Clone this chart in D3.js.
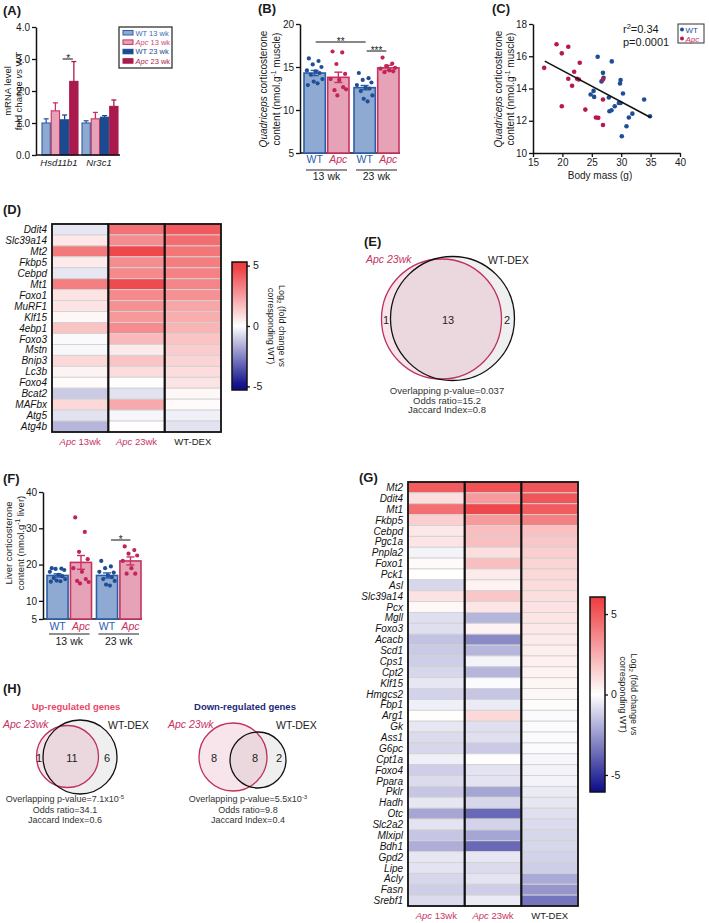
<!DOCTYPE html>
<html>
<head>
<meta charset="utf-8">
<script src="https://cdn.jsdelivr.net/npm/d3@7"></script>
<style>
body { margin: 0; background: #fff; }
svg text { font-family: "Liberation Sans", Arial, Helvetica, sans-serif; }
</style>
</head>
<body>
<div id="fig"></div>
<script>
// ---------- data ----------
// (A) mRNA level, fold change vs WT
const seriesA = ["WT 13 wk", "Apc 13 wk", "WT 23 wk", "Apc 23 wk"];
const genesA = ["Hsd11b1", "Nr3c1"];
const meanA = [[1.0, 1.38, 1.1, 2.3], [1.0, 1.13, 1.18, 1.52]];
const semA = [[0.13, 0.25, 0.15, 0.62], [0.07, 0.2, 0.05, 0.2]];
const ticksA = [0, 1, 2, 3, 4];

// (B) quadriceps corticosterone
const ages = ["13 wk", "23 wk"];
const genotypes = ["WT", "Apc"];
const meanB = [14.3, 13.8, 12.6, 14.9];
const semB = [0.3, 0.6, 0.25, 0.3];
const pointsB = [
  [16.0, 15.7, 15.3, 15.0, 14.6, 14.5, 14.3, 14.1, 13.6, 13.3, 13.1, 12.9],
  [16.8, 16.7, 15.35, 14.2, 13.6, 13.5, 12.65, 12.3, 12.4, 11.7],
  [14.3, 13.7, 13.5, 13.2, 12.9, 12.6, 12.5, 12.2, 11.7, 11.3, 11.0],
  [16.1, 15.4, 15.1, 14.9, 14.8, 14.6, 14.5, 14.4]
];
const ticksB = [5, 10, 15, 20];

// (C) body mass vs corticosterone
const wtC = [[26.0, 15.97], [28.4, 15.68], [26.9, 14.97], [27.0, 14.66], [26.65, 14.44], [29.9, 14.52],
  [29.8, 14.31], [30.3, 13.69], [25.3, 13.85], [24.8, 13.63], [25.4, 13.48], [27.9, 13.44], [29.9, 13.1],
  [29.6, 13.1], [33.9, 13.32], [28.9, 12.9], [28.35, 12.65], [28.0, 12.59], [31.9, 12.44], [31.3, 12.2],
  [34.9, 12.28], [30.9, 11.66], [30.1, 11.04]];
const apcC = [[19.0, 16.74], [21.0, 16.59], [19.9, 16.18], [16.9, 15.28], [22.95, 15.6], [22.0, 15.04],
  [21.0, 14.6], [22.5, 14.6], [22.8, 14.56], [21.65, 14.17], [26.9, 14.56], [19.9, 12.9], [23.9, 12.69],
  [26.9, 13.32], [25.7, 12.2], [26.1, 12.18], [26.9, 11.74]];
const fitC = [[17, 15.7], [35, 12.2]];
const ticksCx = [15, 20, 25, 30, 35, 40];
const ticksCy = [10, 12, 14, 16, 18];

// (D) muscle heatmap, log2 fold change
const colsHeat = ["Apc 13wk", "Apc 23wk", "WT-DEX"];
const genesD = ["Ddit4", "Slc39a14", "Mt2", "Fkbp5", "Cebpd", "Mt1", "Foxo1", "MuRF1", "Klf15", "4ebp1",
  "Foxo3", "Mstn", "Bnip3", "Lc3b", "Foxo4", "Bcat2", "MAFbx", "Atg5", "Atg4b"];
const valuesD = [
  [-0.5, 3.6, 4.2], [0.6, 2.9, 3.7], [3.4, 4.7, 3.5], [0.5, 2.9, 3.3], [-0.5, 3.0, 3.2],
  [3.3, 4.6, 3.1], [0.7, 3.0, 2.8], [0.7, 2.8, 2.3], [0.2, 2.6, 2.1], [1.5, 2.9, 1.9],
  [-0.1, 1.8, 1.5], [-0.15, 0.5, 1.3], [1.0, 1.5, 1.1], [0.3, 0.9, 0.9], [0.1, 0.05, 0.7],
  [-1.1, -0.6, 0.2], [1.0, 2.2, 0.1], [-0.6, -0.2, -0.3], [-1.5, 0.05, -0.6]
];
const ticksD = [-5, 0, 5];

// (E) venn
const countsE = [1, 13, 2];
const statsE = ["Overlapping p-value=0.037", "Odds ratio=15.2", "Jaccard Index=0.8"];

// (F) liver corticosterone
const meanF = [17.0, 20.6, 17.0, 21.0];
const semF = [0.45, 1.9, 0.7, 1.1];
const pointsF = [
  [19, 18.9, 18.8, 18.5, 18, 17.2, 16.8, 16.3, 16, 15.6, 15.4, 15.3],
  [33, 29, 23.5, 21.5, 19, 18, 16, 15.5, 15.2, 14.8],
  [21, 19.5, 19, 17.8, 18, 17, 16.5, 16, 15.5, 14.5, 14.2],
  [25, 24, 23, 22.5, 21, 19, 17.5, 17.5]
];
const ticksF = [5, 10, 20, 30, 40];

// (G) liver heatmap
const genesG = ["Mt2", "Ddit4", "Mt1", "Fkbp5", "Cebpd", "Pgc1a", "Pnpla2", "Foxo1", "Pck1", "Asl",
  "Slc39a14", "Pcx", "Mgll", "Foxo3", "Acacb", "Scd1", "Cps1", "Cpt2", "Klf15", "Hmgcs2", "Fbp1",
  "Arg1", "Gk", "Ass1", "G6pc", "Cpt1a", "Foxo4", "Ppara", "Pklr", "Hadh", "Otc", "Slc2a2", "Mlxipl",
  "Bdh1", "Gpd2", "Lipe", "Acly", "Fasn", "Srebf1"];
const valuesG = [
  [5.0, 5.3, 5.2], [1.0, 3.1, 5.2], [4.4, 5.6, 5.0], [1.5, 3.1, 3.9], [0.7, 2.0, 1.9],
  [0.8, 2.0, 1.7], [-0.3, 1.0, 1.5], [0.15, 2.0, 1.3], [0, 0.6, 1.2], [-1.0, 0.4, 1.1],
  [0.9, 1.7, 1.0], [0.2, 0.8, 0.9], [-0.8, -1.8, 0.8], [-0.8, 0.4, 0.7], [-1.5, -2.9, 0.6],
  [-1.3, -1.8, 0.5], [-1.2, -0.3, 0.45], [-1.0, -1.8, 0.4], [-0.6, -0.1, 0.3], [-1.1, -1.4, 0.25],
  [-0.4, -0.5, 0.1], [0.05, 1.2, -0.1], [-0.6, -0.8, -0.1], [-0.9, -0.8, -0.1], [-1.0, -1.3, -0.1],
  [-0.4, 0.05, -0.2], [-1.2, -0.7, -0.3], [-0.9, -0.7, -0.3], [-1.4, -2.2, -0.5], [-0.6, -1.0, -0.6],
  [-2.2, -3.7, -0.8], [-0.7, -1.1, -0.9], [-1.4, -2.2, -1.0], [-2.0, -3.7, -1.0], [-0.6, -0.6, -1.1],
  [-0.7, -0.9, -1.2], [-1.0, -0.7, -2.1], [-1.2, -1.2, -2.6], [-0.9, -0.5, -3.4]
];
const ticksG = [-5, 0, 5];

// (H) venns
const titlesH = ["Up-regulated genes", "Down-regulated genes"];
const countsH = [[1, 11, 6], [8, 8, 2]];
const statsH = [
  [["Overlapping p-value=7.1x10", "-5"], "Odds ratio=34.1", "Jaccard Index=0.6"],
  [["Overlapping p-value=5.5x10", "-3"], "Odds ratio=9.8", "Jaccard Index=0.4"]
];

// ---------- colours ----------
const wtFill = "#8eaad2", wtStroke = "#2c5ea8";
const apcFill = "#e6a2b6", apcStroke = "#c8325f";
const wtDark = "#1a4a8f", apcDark = "#ab1a4d";
const pink = "#c8325f";
const ink = "#1a1a1a";
const fillsA = [wtFill, apcFill, wtDark, apcDark];
const strokesA = [wtStroke, apcStroke, wtDark, apcDark];
const legendTextA = ["#3a6db5", "#d0467a", "#1a4a8f", "#b01e50"];

const heatD = d3.scaleLinear().domain([-5, 0, 5]).range(["#0c0c8a", "#ffffff", "#ee3b3f"]).clamp(true);
const heatG = d3.scaleLinear().domain([-6, 0, 6]).range(["#0c0c8a", "#ffffff", "#ee3b3f"]).clamp(true);

// ---------- helpers ----------
const svg = d3.select("#fig").append("svg").attr("width", 709).attr("height", 923);
svg.append("rect").attr("width", 709).attr("height", 923).attr("fill", "#fff");
const defs = svg.append("defs");

function txt(g, x, y, parts, o) {
  o = o || {};
  const size = o.size || 10;
  const t = g.append("text").attr("x", x).attr("y", y)
    .style("font-size", size + "px")
    .attr("text-anchor", o.anchor || "start")
    .attr("fill", o.fill || ink);
  if (o.bold) t.attr("font-weight", "bold");
  if (o.rotate) t.attr("transform", "rotate(" + o.rotate + "," + x + "," + y + ")");
  let shift = 0;
  (typeof parts === "string" ? [parts] : parts).forEach(p => {
    if (typeof p === "string") p = { t: p };
    const s = t.append("tspan").text(p.t);
    const want = p.sup ? -size * 0.38 : p.sub ? size * 0.25 : 0;
    if (want !== shift) { s.attr("dy", want - shift); shift = want; }
    if (p.sup || p.sub) s.style("font-size", (size * 0.68) + "px");
    if (p.i) s.attr("font-style", "italic");
    if (p.fill) s.attr("fill", p.fill);
  });
  return t;
}

function styleAxis(sel, fs) {
  sel.select(".domain").attr("stroke", "#111").attr("stroke-width", 1.5);
  sel.selectAll(".tick line").attr("stroke", "#111").attr("stroke-width", 1.3);
  sel.selectAll(".tick text").style("font-size", (fs || 10) + "px").attr("fill", ink);
}

function hline(g, x1, x2, y, color, w) {
  g.append("line").attr("x1", x1).attr("x2", x2).attr("y1", y).attr("y2", y)
    .attr("stroke", color || "#111").attr("stroke-width", w || 1.5);
}

// panel letters
[["(A)", 3, 15], ["(B)", 258, 13], ["(C)", 492, 13], ["(D)", 3, 214], ["(E)", 364, 246],
 ["(F)", 3, 483], ["(G)", 359, 482], ["(H)", 3, 693]].forEach(d =>
  txt(svg, d[1], d[2], d[0], { size: 13, bold: true }));

// ---------- (A) ----------
const gA = svg.append("g");
const yA = d3.scaleLinear().domain([0, 4]).range([155, 27]);
const xA = d3.scaleBand().domain(genesA).range([42, 118]).paddingInner(0.1);
const xAin = d3.scaleBand().domain(seriesA).range([0, xA.bandwidth()]).paddingInner(0.1);
gA.append("g").attr("transform", "translate(36,0)")
  .call(d3.axisLeft(yA).tickValues(ticksA).tickSize(4).tickSizeOuter(0).tickPadding(2))
  .call(s => styleAxis(s, 10));
genesA.forEach((gene, gi) => {
  seriesA.forEach((s, si) => {
    const x = xA(gene) + xAin(s), w = xAin.bandwidth(), cx = x + w / 2;
    const top = yA(meanA[gi][si] + semA[gi][si]);
    gA.append("line").attr("x1", cx).attr("x2", cx).attr("y1", yA(meanA[gi][si])).attr("y2", top)
      .attr("stroke", strokesA[si]).attr("stroke-width", 1.3);
    hline(gA, cx - 2.5, cx + 2.5, top, strokesA[si], 1.3);
    gA.append("rect").attr("x", x).attr("y", yA(meanA[gi][si]))
      .attr("width", w).attr("height", yA(0) - yA(meanA[gi][si]))
      .attr("fill", fillsA[si]).attr("stroke", strokesA[si]).attr("stroke-width", 1.1);
  });
  txt(gA, xA(gene) + xA.bandwidth() / 2 - 1, 166, [{ t: gene, i: true }], { size: 9.5, anchor: "middle" });
});
hline(gA, 36, 120, yA(0));
// significance
{
  const c1 = xA("Hsd11b1") + xAin("WT 23 wk") + xAin.bandwidth() / 2;
  const c2 = xA("Hsd11b1") + xAin("Apc 23 wk") + xAin.bandwidth() / 2;
  hline(gA, c1 - 2, c2 - 1, 59, "#111", 1);
  txt(gA, (c1 + c2) / 2 - 1, 62, "*", { size: 10, anchor: "middle" });
}
txt(gA, 11, 91, "mRNA level", { size: 9.5, anchor: "middle", rotate: -90 });
txt(gA, 22, 91, ["fold change ", { t: "vs", i: true }, " WT"], { size: 9.5, anchor: "middle", rotate: -90 });
// legend
gA.append("rect").attr("x", 119).attr("y", 27).attr("width", 53).attr("height", 41)
  .attr("fill", "#fff").attr("stroke", "#333").attr("stroke-width", 1.3);
seriesA.forEach((s, si) => {
  const yy = 30.5 + si * 9.4;
  gA.append("rect").attr("x", 123).attr("y", yy).attr("width", 10).attr("height", 4.5)
    .attr("fill", fillsA[si]).attr("stroke", strokesA[si]).attr("stroke-width", 1);
  const parts = s.startsWith("Apc") ? [{ t: "Apc", i: true }, { t: s.slice(3) }] : [s];
  txt(gA, 135.5, yy + 5, parts, { size: 7.5, fill: legendTextA[si] });
});

// ---------- (B) and (F) dot-bar charts ----------
const jitter = [-6, 4, -2, 7, -8, 1, 5, -4, 8, -1, 3, -7];
function dotBar(g, o) {
  const y = d3.scaleLinear().domain(o.domain).range([o.yBottom, o.yTop]);
  const xo = d3.scaleBand().domain(ages).range([o.x0, o.x1]).paddingInner(0.1);
  const xi = d3.scaleBand().domain(genotypes).range([0, xo.bandwidth()]).paddingInner(0.1);
  g.append("g").attr("transform", "translate(" + o.axisX + ",0)")
    .call(d3.axisLeft(y).tickValues(o.ticks).tickSize(4).tickSizeOuter(0).tickPadding(2))
    .call(s => styleAxis(s, 10));
  hline(g, o.axisX, o.x1 + 1, o.yBottom, "#111", 1.5);
  const centers = [];
  ages.forEach((age, ai) => {
    genotypes.forEach((gt, ti) => {
      const k = ai * 2 + ti;
      const x = xo(age) + xi(gt), w = xi.bandwidth(), cx = x + w / 2;
      centers.push(cx);
      const fill = ti === 0 ? wtFill : apcFill, st = ti === 0 ? wtStroke : apcStroke;
      g.append("rect").attr("x", x).attr("y", y(o.means[k])).attr("width", w)
        .attr("height", o.yBottom - y(o.means[k]))
        .attr("fill", fill).attr("stroke", st).attr("stroke-width", 1.6);
      const lo = y(o.means[k] - o.sems[k]), hi = y(o.means[k] + o.sems[k]);
      g.append("line").attr("x1", cx).attr("x2", cx).attr("y1", lo).attr("y2", hi)
        .attr("stroke", st).attr("stroke-width", 1.4);
      hline(g, cx - 4, cx + 4, hi, st, 1.4);
      hline(g, cx - 4, cx + 4, lo, st, 1.4);
      o.points[k].forEach((v, i) => {
        g.append("circle").attr("cx", cx + jitter[i % jitter.length] * w / 22).attr("cy", y(v))
          .attr("r", 2.1).attr("fill", ti === 0 ? "#1f4e96" : "#c0245a");
      });
      txt(g, cx, o.labY, gt === "Apc" ? [{ t: "Apc", i: true }] : gt,
        { size: 10.5, anchor: "middle", fill: ti === 0 ? wtStroke : pink });
    });
    hline(g, xo(age) + 2, xo(age) + xo.bandwidth() - 2, o.lineY, "#222", 1);
    txt(g, xo(age) + xo.bandwidth() / 2, o.ageY, age, { size: 10.5, anchor: "middle" });
  });
  return { y: y, centers: centers };
}

const gB = svg.append("g");
const bB = dotBar(gB, { domain: [5, 20], yBottom: 153, yTop: 24, x0: 304, x1: 399, axisX: 300,
  ticks: ticksB, means: meanB, sems: semB, points: pointsB, labY: 163, lineY: 170, ageY: 180 });
hline(gB, bB.centers[0] + 1, bB.centers[2] + 1, 42, "#111", 1);
txt(gB, (bB.centers[0] + bB.centers[2]) / 2 + 1, 45, "**", { size: 10, anchor: "middle" });
hline(gB, bB.centers[2] + 2, bB.centers[3] - 2, 51, "#111", 1);
txt(gB, (bB.centers[2] + bB.centers[3]) / 2, 54, "***", { size: 10, anchor: "middle" });
txt(gB, 267, 89, [{ t: "Quadriceps", i: true }, " corticosterone"], { size: 10, anchor: "middle", rotate: -90 });
txt(gB, 280, 89, ["content (nmol.g", { t: "-1", sup: true }, " muscle)"], { size: 10, anchor: "middle", rotate: -90 });

const gF = svg.append("g");
const bF = dotBar(gF, { domain: [5, 40], yBottom: 619, yTop: 492, x0: 47, x1: 141, axisX: 43,
  ticks: ticksF, means: meanF, sems: semF, points: pointsF, labY: 630, lineY: 634, ageY: 645 });
hline(gF, bF.centers[2] + 4, bF.centers[3], 540, "#111", 1);
txt(gF, (bF.centers[2] + bF.centers[3]) / 2 + 2, 543, "*", { size: 10, anchor: "middle" });
txt(gF, 11.5, 543, "Liver corticosterone", { size: 9.5, anchor: "middle", rotate: -90 });
txt(gF, 23.5, 543, ["content (nmol.g", { t: "-1", sup: true }, " liver)"], { size: 9.5, anchor: "middle", rotate: -90 });

// ---------- (C) ----------
const gC = svg.append("g");
const xC = d3.scaleLinear().domain([15, 40]).range([533, 680]);
const yC = d3.scaleLinear().domain([10, 18]).range([153, 24]);
gC.append("g").attr("transform", "translate(533,0)")
  .call(d3.axisLeft(yC).tickValues(ticksCy).tickSize(4).tickSizeOuter(0).tickPadding(2))
  .call(s => styleAxis(s, 10));
gC.append("g").attr("transform", "translate(0,153)")
  .call(d3.axisBottom(xC).tickValues(ticksCx).tickSize(4).tickSizeOuter(0).tickPadding(2))
  .call(s => styleAxis(s, 10));
wtC.forEach(d => gC.append("circle").attr("cx", xC(d[0])).attr("cy", yC(d[1])).attr("r", 2.3).attr("fill", "#1f4e96"));
apcC.forEach(d => gC.append("circle").attr("cx", xC(d[0])).attr("cy", yC(d[1])).attr("r", 2.3).attr("fill", "#b8184a"));
gC.append("line").attr("x1", xC(fitC[0][0])).attr("y1", yC(fitC[0][1]))
  .attr("x2", xC(fitC[1][0])).attr("y2", yC(fitC[1][1])).attr("stroke", "#111").attr("stroke-width", 1.5);
txt(gC, 623, 33, ["r", { t: "2", sup: true }, "=0.34"], { size: 11 });
txt(gC, 623, 46, "p=0.0001", { size: 11 });
gC.append("rect").attr("x", 678).attr("y", 24).attr("width", 26).attr("height", 19)
  .attr("fill", "#fff").attr("stroke", "#333").attr("stroke-width", 1);
gC.append("circle").attr("cx", 682).attr("cy", 29.5).attr("r", 2).attr("fill", "#1f4e96");
gC.append("circle").attr("cx", 682).attr("cy", 38.5).attr("r", 2).attr("fill", "#b8184a");
txt(gC, 685.5, 32.5, "WT", { size: 8, fill: "#1f4e96" });
txt(gC, 685.5, 41.5, [{ t: "Apc", i: true }], { size: 8, fill: pink });
txt(gC, 600, 179, "Body mass (g)", { size: 10, anchor: "middle" });
txt(gC, 502, 89, [{ t: "Quadriceps", i: true }, " corticosterone"], { size: 10, anchor: "middle", rotate: -90 });
txt(gC, 514, 89, ["content (nmol.g", { t: "-1", sup: true }, " muscle)"], { size: 10, anchor: "middle", rotate: -90 });

// ---------- heatmaps ----------
function heat(g, genes, vals, x0, x1, y0, y1, color, fs) {
  const x = d3.scaleBand().domain(colsHeat).range([x0, x1]);
  const y = d3.scaleBand().domain(genes).range([y0, y1]);
  genes.forEach((gn, r) => colsHeat.forEach((c, k) => {
    g.append("rect").attr("x", x(c)).attr("y", y(gn)).attr("width", x.bandwidth()).attr("height", y.bandwidth())
      .attr("fill", color(vals[r][k])).attr("stroke", "#d2d2d2").attr("stroke-width", 0.9);
  }));
  colsHeat.forEach(c => g.append("rect").attr("x", x(c)).attr("y", y0).attr("width", x.bandwidth())
    .attr("height", y1 - y0).attr("fill", "none").attr("stroke", "#111").attr("stroke-width", 1.8));
  genes.forEach(gn => txt(g, x0 - 5, y(gn) + y.bandwidth() / 2 + fs * 0.36, [{ t: gn, i: true }],
    { size: fs, anchor: "end", fill: "#111" }));
  colsHeat.forEach(c => {
    const isApc = c.startsWith("Apc");
    txt(g, x(c) + x.bandwidth() / 2, y1 + 12.5, isApc ? [{ t: "Apc", i: true }, c.slice(3)] : c,
      { size: 9.5, anchor: "middle", fill: isApc ? pink : ink });
  });
}

function colorbar(g, id, color, dom, x, y0, y1, ticks, titleX) {
  const grad = defs.append("linearGradient").attr("id", id)
    .attr("x1", 0).attr("x2", 0).attr("y1", 1).attr("y2", 0);
  d3.range(0, 1.0001, 0.05).forEach(t => grad.append("stop").attr("offset", t)
    .attr("stop-color", color(dom[0] + t * (dom[1] - dom[0]))));
  g.append("rect").attr("x", x).attr("y", y0).attr("width", 15).attr("height", y1 - y0)
    .attr("fill", "url(#" + id + ")").attr("stroke", "#111").attr("stroke-width", 1.5);
  const s = d3.scaleLinear().domain(dom).range([y1, y0]);
  g.append("g").attr("transform", "translate(" + (x + 15) + ",0)")
    .call(d3.axisRight(s).tickValues(ticks).tickSize(3).tickPadding(3).tickFormat(d => String(d)))
    .call(a => a.select(".domain").remove())
    .call(a => styleAxis(a, 10.5));
  const cy = (y0 + y1) / 2;
  txt(g, titleX[0], cy, ["Log", { t: "2", sub: true }, " (fold change ", { t: "vs", i: true }],
    { size: 9, anchor: "middle", rotate: 90 });
  txt(g, titleX[1], cy, "corresponding WT)", { size: 9, anchor: "middle", rotate: 90 });
}

const gD = svg.append("g");
heat(gD, genesD, valuesD, 52, 221, 224, 432, heatD, 10);
colorbar(gD, "cbD", heatD, [-5.3, 5.3], 232, 262, 390, ticksD, [279, 268]);

const gG = svg.append("g");
heat(gG, genesG, valuesG, 408, 578, 482, 906, heatG, 10);
colorbar(gG, "cbG", heatG, [-6.06, 6.06], 590, 597, 792, ticksG, [631, 620]);

// ---------- venn diagrams ----------
function venn(g, pinkC, blackC, counts, countX, countY, labs, stats, statX, statY, statSize, gap) {
  g.append("circle").attr("cx", blackC[0]).attr("cy", blackC[1]).attr("r", blackC[2]).attr("fill", "#efefef");
  g.append("circle").attr("cx", pinkC[0]).attr("cy", pinkC[1]).attr("r", pinkC[2]).attr("fill", "rgba(214,110,145,0.18)");
  g.append("circle").attr("cx", pinkC[0]).attr("cy", pinkC[1]).attr("r", pinkC[2])
    .attr("fill", "none").attr("stroke", "#c0305a").attr("stroke-width", 1.3);
  g.append("circle").attr("cx", blackC[0]).attr("cy", blackC[1]).attr("r", blackC[2])
    .attr("fill", "none").attr("stroke", "#111").attr("stroke-width", 1.3);
  counts.forEach((c, i) => txt(g, countX[i], countY, String(c), { size: 11, anchor: "middle", fill: "#222" }));
  txt(g, labs[0][0], labs[0][1], [{ t: "Apc", i: true }, { t: " 23wk", i: true }], { size: 10.5, fill: pink });
  txt(g, labs[1][0], labs[1][1], "WT-DEX", { size: 10.5, fill: "#222" });
  stats.forEach((s, i) => {
    const parts = Array.isArray(s) ? [s[0], { t: s[1], sup: true }] : s;
    txt(g, statX, statY + i * gap, parts, { size: statSize, anchor: "middle", fill: "#333" });
  });
}

const gE = svg.append("g");
venn(gE, [441.5, 319, 60], [452.5, 318.5, 62], countsE, [386, 448, 507], 324,
  [[366, 263], [488, 264]], statsE, 447, 394, 9.5, 9.5);

const gH = svg.append("g");
txt(gH, 76, 710, titlesH[0], { size: 9.5, bold: true, anchor: "middle", fill: "#e8486a" });
txt(gH, 245, 710, titlesH[1], { size: 9.5, bold: true, anchor: "middle", fill: "#1c2a78" });
venn(gH, [67.5, 756.5, 31], [80, 757, 37], countsH[0], [39, 72, 107], 762,
  [[3, 728], [108, 729]], statsH[0], 65, 802, 9, 10.5);
venn(gH, [233, 757, 34], [258, 760, 28], countsH[1], [214, 255, 279], 762,
  [[168, 728], [276, 729]], statsH[1], 248, 802, 9, 10.5);
</script>
</body>
</html>
